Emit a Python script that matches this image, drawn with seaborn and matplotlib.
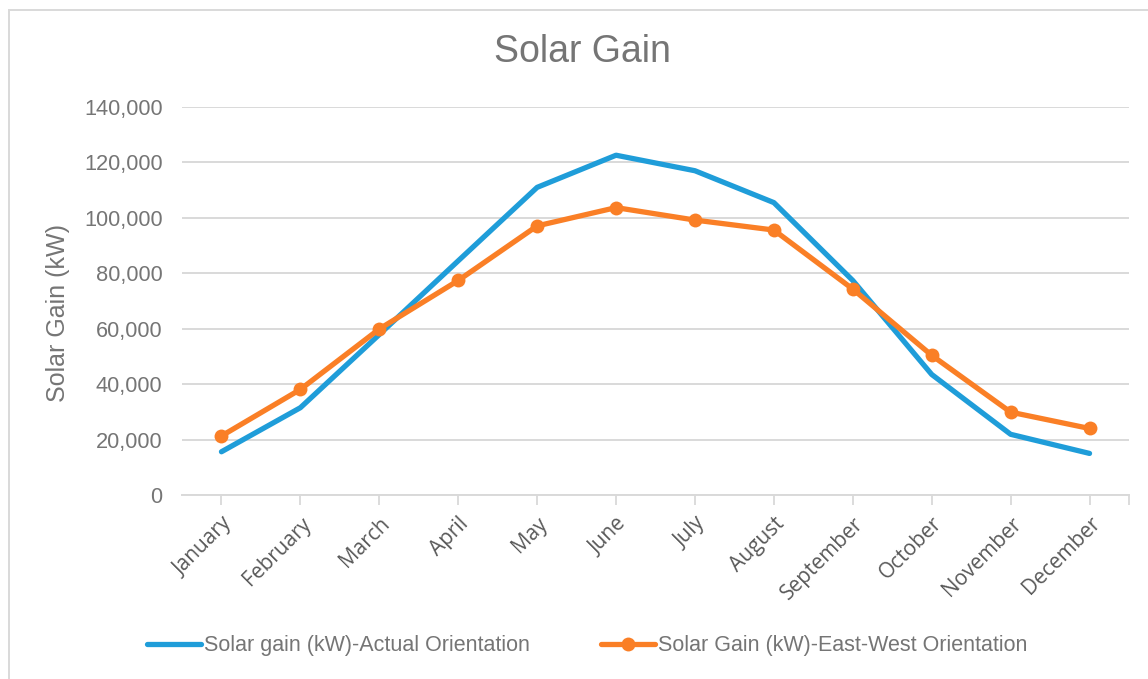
import matplotlib
matplotlib.use("Agg")
import matplotlib.pyplot as plt
from matplotlib.patches import Rectangle
from matplotlib.ticker import FuncFormatter, FixedLocator
import pandas as pd
import seaborn as sns

# Monthly solar gain, kW
months = ["January", "February", "March", "April", "May", "June",
          "July", "August", "September", "October", "November", "December"]
actual_orientation = [15600, 31500, 57900, 84500, 111000, 122600,
                      117000, 105500, 77400, 43500, 21900, 15000]
east_west_orientation = [21300, 38100, 59900, 77400, 97100, 103700,
                         99200, 95600, 74300, 50400, 29900, 24000]

series_names = ["Solar gain (kW)-Actual Orientation",
                "Solar Gain (kW)-East-West Orientation"]

df = pd.DataFrame({
    "month": months * 2,
    "pos": list(range(len(months))) * 2,
    "gain": actual_orientation + east_west_orientation,
    "series": [series_names[0]] * len(months) + [series_names[1]] * len(months),
})

sns.set_theme(style="white")
plt.rcParams["font.family"] = ["Liberation Sans", "DejaVu Sans"]

BLUE = "#1F9DD9"
ORANGE = "#FA7F26"
GRID = "#D9D9D9"
TEXT = "#757575"

fig = plt.figure(figsize=(11.48, 6.79), dpi=100)
ax = fig.add_axes([182 / 1148, 1 - 495 / 679, (1129 - 182) / 1148, (495 - 107) / 679])

sns.lineplot(data=df[df.series == series_names[0]], x="pos", y="gain",
             color=BLUE, linewidth=3.8, ax=ax, label=series_names[0],
             solid_capstyle="round")
sns.lineplot(data=df[df.series == series_names[1]], x="pos", y="gain",
             color=ORANGE, linewidth=3.8, marker="o", markersize=10,
             markeredgewidth=0, ax=ax, label=series_names[1])

ax.set_xlim(-0.5, len(months) - 0.5)
ax.set_ylim(0, 140000)
ax.set_yticks(range(0, 140001, 20000))
ax.yaxis.set_major_formatter(FuncFormatter(lambda v, p: f"{int(v):,}"))
ax.grid(axis="y", color=GRID, linewidth=1.4)
ax.set_axisbelow(True)

ax.set_xticks(range(len(months)))
ax.set_xticklabels(months, rotation=45, ha="right", rotation_mode="anchor",
                   fontsize=15, color="#595959", family=["Open Sans", "DejaVu Sans"])
ax.xaxis.set_minor_locator(FixedLocator([len(months) - 0.5]))
ax.tick_params(axis="x", which="both", bottom=True, length=7, width=1.3,
               color=GRID, pad=6)
ax.tick_params(axis="y", left=False, labelsize=15.7, labelcolor=TEXT, pad=8)

for s in ["top", "right", "left"]:
    ax.spines[s].set_visible(False)
ax.spines["bottom"].set_color(GRID)
ax.spines["bottom"].set_linewidth(1.4)

ax.set_xlabel("")
ax.set_ylabel("Solar Gain (kW)", fontsize=18, color=TEXT)
ax.yaxis.set_label_coords(-0.118, 0.469)

fig.text(582 / 1148, 1 - 52 / 679, "Solar Gain", ha="center", va="center",
         fontsize=27, color=TEXT)

handles, labels = ax.get_legend_handles_labels()
ax.get_legend().remove()
fig.legend(handles, labels, loc="center", bbox_to_anchor=(587 / 1148, 1 - 646 / 679),
           ncol=2, frameon=False, handlelength=2.5, handletextpad=0.15,
           columnspacing=3.3, labelcolor=TEXT,
           prop={"family": ["Liberation Sans"], "size": 15.5})

# Thin outer frame of the chart area
fig.patches.append(Rectangle((9 / 1148, -0.05), 2, 1.05 - 10 / 679,
                             transform=fig.transFigure, fill=False,
                             edgecolor=GRID, linewidth=1.4))

fig.savefig("out.png", dpi=100, facecolor="white")
